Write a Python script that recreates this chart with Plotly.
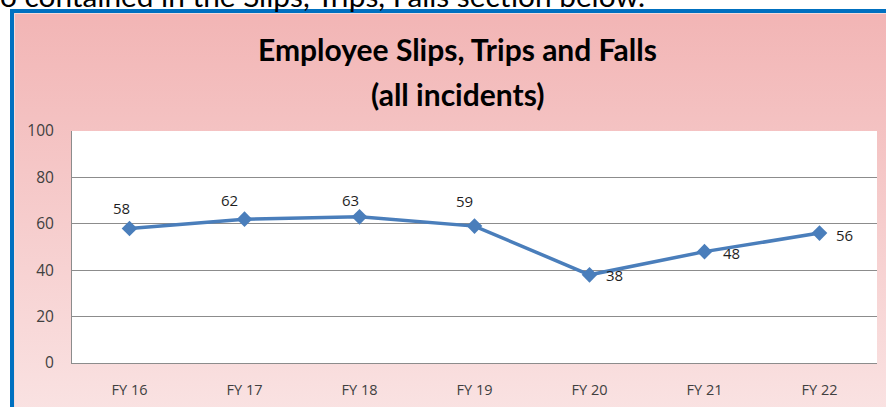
import base64
import plotly.graph_objects as go

# ---------------- data ----------------
CATEGORIES = ["FY 16", "FY 17", "FY 18", "FY 19", "FY 20", "FY 21", "FY 22"]
INCIDENTS = [58, 62, 63, 59, 38, 48, 56]
Y_TICKS = [0, 20, 40, 60, 80, 100]
TITLE_LINE1 = "Employee Slips, Trips and Falls"
TITLE_LINE2 = "(all incidents)"
HEADER_TEXT = "o contained in the Slips, Trips, Falls section below."

# data-label offsets in pixels (styling only)
LABEL_DX = [-8, -15, -9, -10, 25, 27, 25]
LABEL_DY = [20, 19, 17, 25, 0, -1, -2]

# ---------------- geometry ----------------
W, H = 886, 407
L, R, T, B = 72, 9, 131, 44
PW, PH = W - L - R, H - T - B


def px(x):
    return (x - L) / PW


def py(y):
    return (H - B - y) / PH


LINE_BLUE = "#4A7EBB"
GRID = "#8C8C8C"

fig = go.Figure()
fig.add_trace(go.Scatter(
    x=CATEGORIES, y=INCIDENTS, mode="lines+markers",
    line=dict(color=LINE_BLUE, width=3.5),
    marker=dict(symbol="diamond", size=12, color=LINE_BLUE),
    hoverinfo="skip", showlegend=False,
))

annotations = []
for cat, val, dx, dy in zip(CATEGORIES, INCIDENTS, LABEL_DX, LABEL_DY):
    annotations.append(dict(
        x=cat, y=val, xref="x", yref="y", text=str(val), showarrow=False,
        xshift=dx, yshift=dy, xanchor="center", yanchor="middle",
        font=dict(family="Open Sans", size=15, color="#1F1F1F"),
    ))

annotations.append(dict(
    x=px(457.5), y=py(49), xref="paper", yref="paper", text=f"<b>{TITLE_LINE1}</b>",
    showarrow=False, xanchor="center", yanchor="middle",
    font=dict(family="Lato", size=30, color="#000000"),
))
annotations.append(dict(
    x=px(457), y=py(94), xref="paper", yref="paper", text=f"<b>{TITLE_LINE2}</b>",
    showarrow=False, xanchor="center", yanchor="middle",
    font=dict(family="Lato", size=30, color="#000000"),
))
annotations.append(dict(
    x=px(-2), y=py(15), xref="paper", yref="paper", text=HEADER_TEXT,
    showarrow=False, xanchor="left", yanchor="bottom",
    font=dict(family="Lato", size=29.8, color="#000000"),
))

svg = ('<svg xmlns="http://www.w3.org/2000/svg" width="100" height="100" preserveAspectRatio="none">'
       '<defs><linearGradient id="g" x1="0" y1="0" x2="0" y2="1">'
       '<stop offset="0" stop-color="#F2B5B5"/><stop offset="1" stop-color="#FAE4E4"/>'
       '</linearGradient></defs><rect width="100" height="100" fill="url(#g)"/></svg>')
src = "data:image/svg+xml;base64," + base64.b64encode(svg.encode()).decode()

images = [dict(
    source=src, xref="paper", yref="paper",
    x=px(14), y=py(13), sizex=(W + 20 - 14) / PW, sizey=(H + 20 - 13) / PH,
    xanchor="left", yanchor="top", sizing="stretch", layer="below",
)]

shapes = [
    # white plot area
    dict(type="rect", xref="paper", yref="paper", x0=0, x1=1, y0=0, y1=1,
         fillcolor="white", line=dict(width=0), layer="below"),
    # blue outer border
    dict(type="rect", xref="paper", yref="paper", x0=px(12), x1=px(W + 40),
         y0=py(H + 40), y1=py(11), fillcolor="rgba(0,0,0,0)",
         line=dict(color="#0070C0", width=4), layer="above"),
    # light inner line
    dict(type="rect", xref="paper", yref="paper", x0=px(14.5), x1=px(W + 40),
         y0=py(H + 40), y1=py(13.5), fillcolor="rgba(0,0,0,0)",
         line=dict(color="#F3DADA", width=1), layer="above"),
]

fig.update_layout(
    width=W, height=H, autosize=False,
    margin=dict(l=L, r=R, t=T, b=B, pad=0),
    paper_bgcolor="white", plot_bgcolor="rgba(0,0,0,0)",
    annotations=annotations, images=images, shapes=shapes,
    xaxis=dict(type="category", range=[-0.5, len(CATEGORIES) - 0.5],
               showgrid=False, showline=True, linecolor=GRID, linewidth=1,
               ticks="", ticklabelstandoff=14, zeroline=False, fixedrange=True,
               tickfont=dict(family="Open Sans", size=14.5, color="#404040")),
    yaxis=dict(range=[0, 100], tickvals=Y_TICKS, showgrid=True, gridcolor=GRID,
               gridwidth=1, showline=True, linecolor=GRID, linewidth=1,
               ticks="", ticklabelstandoff=14, zeroline=False, fixedrange=True,
               tickfont=dict(family="Open Sans", size=15.5, color="#404040")),
)

fig.write_html("out.html", config={"displayModeBar": False},
               post_script="document.body.style.margin='0';")
